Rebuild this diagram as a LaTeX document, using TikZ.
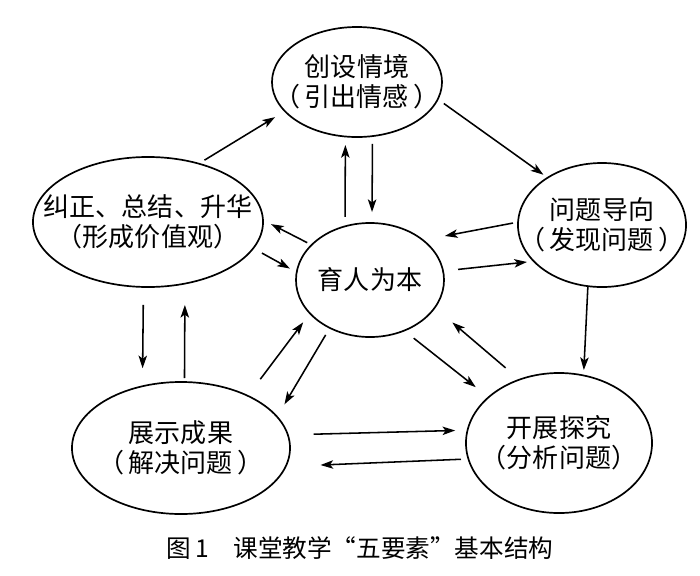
\documentclass[tikz,border=0pt]{standalone}
\usepackage{fontspec}
\newfontfamily\cjk{Noto Sans CJK SC}
\usetikzlibrary{shapes.geometric}
\usetikzlibrary{arrows.meta}

\begin{document}
\begin{tikzpicture}[x=0.025cm, y=-0.025cm,
	stage/.style={ellipse, draw=black, line width=1.2pt, inner sep=0pt, outer sep=0pt},
	words/.style={align=center, inner sep=0pt, font=\cjk\fontsize{18.5}{21.5}\selectfont},
	link/.style={line width=1.1pt, -{Stealth[length=9pt,width=6pt,inset=2.2pt]}}]

	\useasboundingbox (0,0) rectangle (700,575);

	%Stages
	\node[stage, minimum width=4.25cm, minimum height=2.75cm] (situation) at (357,82) {};
	\node[stage, minimum width=5.75cm, minimum height=3.25cm] (summary) at (148,222) {};
	\node[stage, minimum width=4.2cm, minimum height=3.1cm] (guidance) at (602,225) {};
	\node[stage, minimum width=3.7cm, minimum height=2.85cm] (core) at (370,280) {};
	\node[stage, minimum width=5.45cm, minimum height=3.3cm] (results) at (181,448) {};
	\node[stage, minimum width=4.65cm, minimum height=3.5cm] (inquiry) at (559,443) {};

	%Texts
	\node[words] at (situation) {创设情境\\（\,引出情感\,）};
	\node[words] at (summary) {纠正、总结、升华\\（形成价值观）};
	\node[words] at (guidance) {问题导向\\（\,发现问题\,）};
	\node[words] at (core) {育人为本};
	\node[words] at (results) {展示成果\\（\,解决问题\,）};
	\node[words] at (inquiry) {开展探究\\（分析问题）};

	%Outer cycle
	\draw[link, shorten <=4.8pt, shorten >=8.2pt] (summary.49) -- (situation.202);
	\draw[link, shorten <=5.3pt, shorten >=3.7pt] (situation.348) -- (guidance.139);
	\draw[link, shorten <=0.5pt, shorten >=3.9pt] (guidance.257) -- (inquiry.70);
	\draw[link, shorten <=18.4pt, shorten >=8.8pt] (results.7) -- (inquiry.172);
	\draw[link, shorten <=5.3pt, shorten >=24.8pt] (inquiry.190) -- (results.350);
	\draw[link, shorten <=12.8pt, shorten >=12.8pt] (summary.266) -- (results.122);
	\draw[link, shorten <=2.8pt, shorten >=15.2pt] (results.87) -- (summary.301);

	%Core links
	\draw[link, shorten <=6.7pt, shorten >=6.1pt] (core.115) -- (situation.258);
	\draw[link, shorten <=5.6pt, shorten >=7.8pt] (situation.286) -- (core.88);
	\draw[link, shorten <=3.7pt, shorten >=15.9pt] (guidance.178) -- (core.37);
	\draw[link, shorten <=10.7pt, shorten >=4.9pt] (core.7) -- (guidance.208);
	\draw[link, shorten <=3.5pt, shorten >=6.4pt] (core.149) -- (summary.1);
	\draw[link, shorten <=7.1pt, shorten >=5.5pt] (summary.346) -- (core.174);
	\draw[link, shorten <=14.8pt, shorten >=8pt] (results.38) -- (core.209);
	\draw[link, shorten <=5.8pt, shorten >=10.3pt] (core.230) -- (results.18);
	\draw[link, shorten <=8.7pt, shorten >=11.6pt] (core.304) -- (inquiry.147);
	\draw[link, shorten <=12.9pt, shorten >=16.4pt] (inquiry.122) -- (core.337);

	%Caption
	\node[font=\cjk\fontsize{17.5}{20}\selectfont] (caption) at (360,548) {图\,1\quad 课堂教学“五要素”基本结构};

\end{tikzpicture}
\end{document}
